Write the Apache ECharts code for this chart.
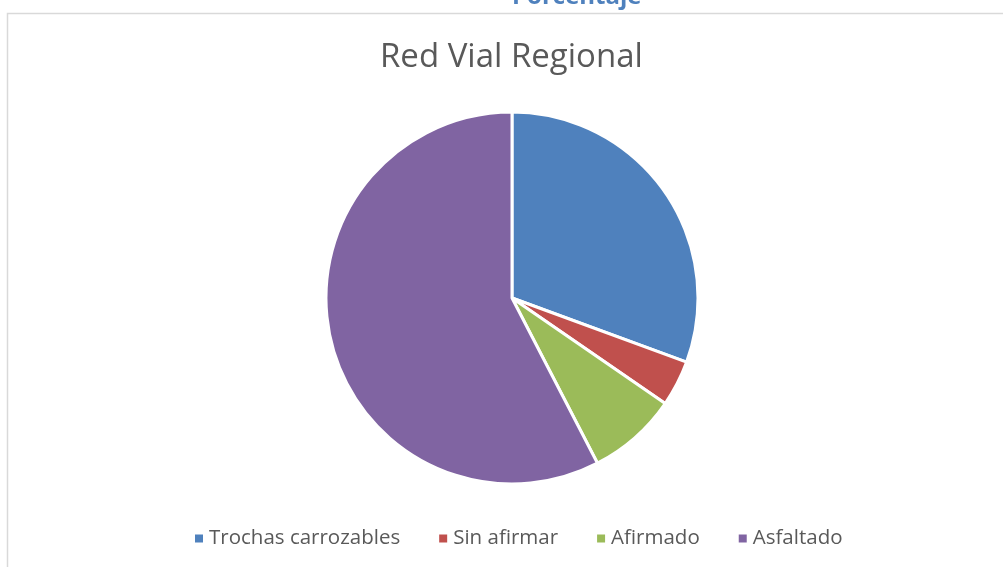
<!DOCTYPE html>
<html>
<head>
<meta charset="utf-8">
<title>Red Vial Regional</title>
<script src="https://cdn.jsdelivr.net/npm/echarts@6/dist/echarts.min.js"></script>
<style>
  html, body { margin: 0; padding: 0; background: #fff; }
  #chart { width: 1003px; height: 567px; }
</style>
</head>
<body>
<div id="chart"></div>
<script>
const categories = ['Trochas carrozables', 'Sin afirmar', 'Afirmado', 'Asfaltado'];
const values = [30.6, 4.0, 7.8, 57.6];
const colors = ['#4F81BD', '#C0504D', '#9BBB59', '#8064A2'];

const chart = echarts.init(document.getElementById('chart'));
chart.setOption({
    animation: false,
    color: colors,
    title: [{
        text: 'Porcentaje',
        left: 507, top: -20,
        textStyle: { color: '#4F81BD', fontSize: 24, fontWeight: 'bold', fontFamily: 'Open Sans' }
    }, {
        text: 'Red Vial Regional',
        left: 375, top: 36,
        textStyle: { color: '#595959', fontSize: 33, fontWeight: 'normal', fontFamily: 'Open Sans' }
    }],
    graphic: [{
        type: 'rect',
        shape: { x: 7.5, y: 13.5, width: 1100, height: 700 },
        style: { fill: 'none', stroke: '#D9D9D9', lineWidth: 1.5 },
        z: -1
    }],
    legend: {
        data: categories,
        bottom: 13,
        left: 188,
        icon: 'rect',
        itemWidth: 10, itemHeight: 10,
        itemGap: 37,
        textStyle: { color: '#595959', fontSize: 20.5, fontFamily: 'Open Sans' }
    },
    series: [{
        type: 'pie',
        center: [512, 298],
        radius: 186,
        startAngle: 90,
        clockwise: true,
        label: { show: false },
        labelLine: { show: false },
        itemStyle: { borderColor: '#fff', borderWidth: 3 },
        data: categories.map((c, i) => ({ name: c, value: values[i] }))
    }]
});
</script>
</body>
</html>
